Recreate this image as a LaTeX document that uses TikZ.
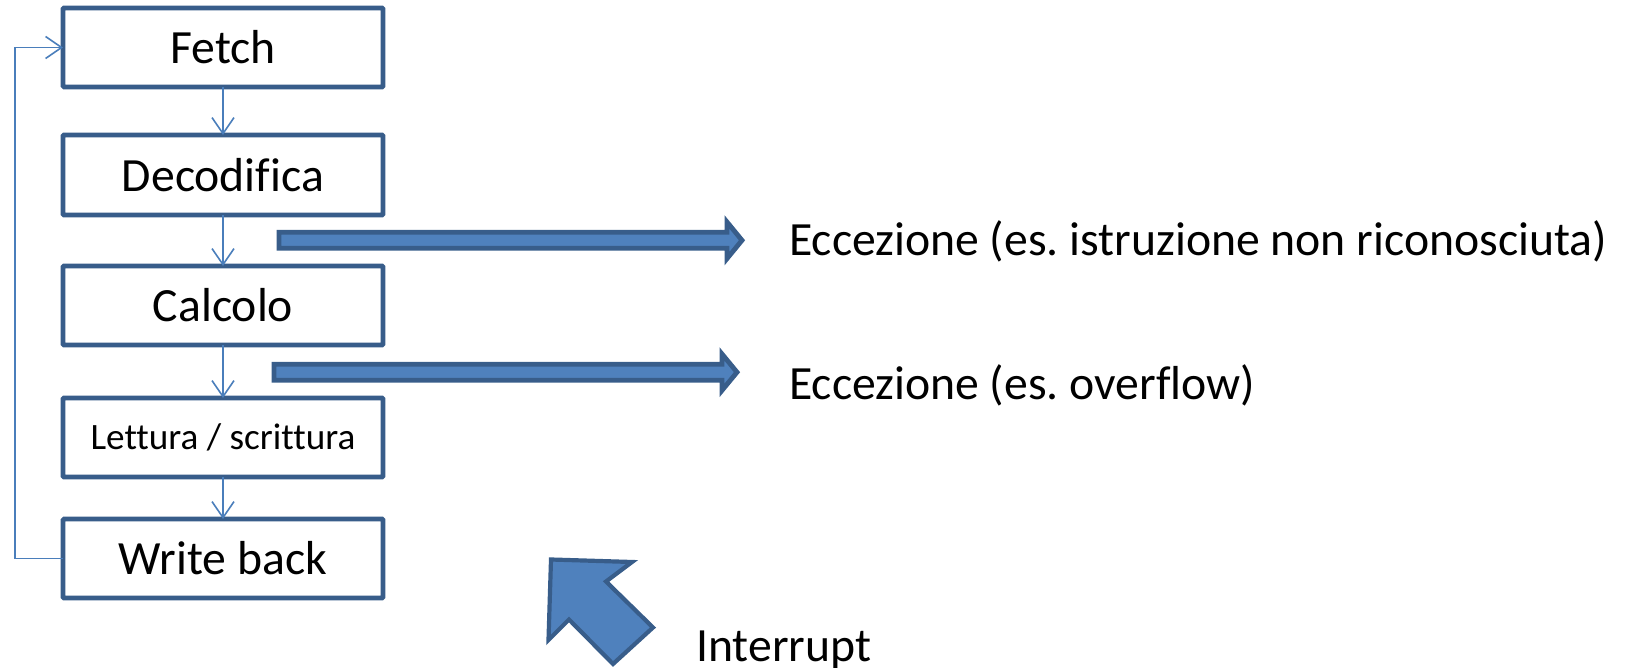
\documentclass[tikz,border=0pt]{standalone}
\usepackage{fontspec}
\setmainfont{Carlito}[Ligatures=NoCommon]
\frenchspacing
\usetikzlibrary{arrows.meta}
\definecolor{boxline}{HTML}{385D8A}
\definecolor{flowline}{HTML}{4A7EBB}
\definecolor{blockfill}{HTML}{4F81BD}
\tikzset{
  stage/.style={draw=boxline, line width=4.6pt, fill=white, rounded corners=1pt,
    minimum width=320pt, minimum height=79pt, inner sep=0pt, outer sep=0pt,
    font=\fontsize{47.7}{56}\selectfont},
  smallstage/.style={stage, font=\fontsize{37.2}{44}\selectfont},
  flow/.style={draw=flowline, line width=1.6pt,
    -{Straight Barb[length=16pt, width=22pt, line width=1.6pt]}},
  block/.style={draw=boxline, fill=blockfill, line width=4.8pt, line join=miter},
  label/.style={font=\fontsize{47.7}{56}\selectfont, inner sep=0pt, anchor=base west}
}
\begin{document}
\begin{tikzpicture}[x=1pt, y=-1pt]
  \useasboundingbox (0,0) rectangle (1630,668);

  % pipeline stages
  \node[stage] (fetch) at (223,47.5) {Fetch};
  \node[stage, minimum height=80pt] (dec) at (223,175) {Decodifica};
  \node[stage] (calc) at (223,305.5) {Calcolo};
  \node[smallstage] (rw) at (223,437.5) {Lettura / scrittura};
  \node[stage] (wb) at (223,558.5) {Write back};

  % flow between stages
  \draw[flow] (fetch.south) -- (dec.north);
  \draw[flow] (dec.south) -- (calc.north);
  \draw[flow] (calc.south) -- (rw.north);
  \draw[flow] (rw.south) -- (wb.north);
  \draw[flow] (wb.west) -- (15,558.5) -- (15,47.5) -- (fetch.west);

  % exception block arrows
  \draw[block] (279,232.3) -- (727,232.3) -- (727,222) -- (742,240.3)
    -- (727,258.6) -- (727,248.3) -- (279,248.3) -- cycle;
  \draw[block] (274,364.2) -- (722,364.2) -- (722,354) -- (737,372.2)
    -- (722,390.4) -- (722,380.2) -- (274,380.2) -- cycle;

  % interrupt block arrow
  \draw[block, line width=4.2pt] (551,559.5) -- (632,562) -- (606,581.5) -- (653,627.5)
    -- (613,664) -- (569,619.5) -- (548.5,640) -- cycle;

  % labels
  \node[label] (exc1) at (789,255.7) {Eccezione (es. istruzione non riconosciuta)};
  \node[label] (exc2) at (789,399) {Eccezione (es. overflow)};
  \node[label] (intr) at (696,661) {Interrupt};
\end{tikzpicture}
\end{document}
